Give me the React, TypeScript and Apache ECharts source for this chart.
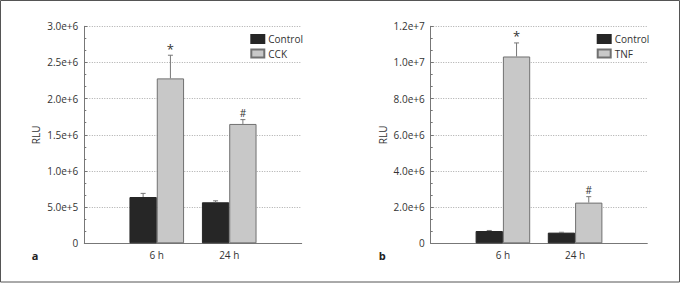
import React, { useEffect, useRef } from "react";
import * as echarts from "echarts";

const categories = ["", "6 h", "24 h", ""];

const aControl = [0.64e6, 0.567e6];
const aControlErr = [0.05e6, 0.02e6];
const aCCK = [2.28e6, 1.65e6];
const aCCKErr = [0.32e6, 0.06e6];
const aMarks = ["*", "#"];

const bControl = [0.68e6, 0.59e6];
const bControlErr = [0.03e6, 0.02e6];
const bTNF = [10.33e6, 2.25e6];
const bTNFErr = [0.75e6, 0.33e6];
const bMarks = ["*", "#"];

const aAxis = { min: 0, max: 3e6, interval: 5e5 };
const bAxis = { min: 0, max: 1.2e7, interval: 2e6 };

const FONT = "Open Sans";
const TEXT = "#333";
const AXIS = "#777";
const BAR_W = 27.3;
const DARK = "#262626";
const LIGHT = "#c8c8c8";

function fmt(v: number) {
  return v === 0 ? "0" : v.toExponential(1);
}

function barSeries(name: string, vals: number[], idx: number, color: string, border: string) {
  return {
    type: "bar",
    name,
    xAxisIndex: idx,
    yAxisIndex: idx,
    barWidth: BAR_W,
    barGap: "0%",
    data: vals.map((v, i) => [i + 1, v]),
    itemStyle: { color, borderColor: border, borderWidth: 1 },
  };
}

function errSeries(vals: number[], errs: number[], marks: (string | null)[], idx: number, offset: number) {
  return {
    type: "custom",
    xAxisIndex: idx,
    yAxisIndex: idx,
    silent: true,
    z: 5,
    data: vals.map((v, i) => [i + 1, v, v + errs[i]]),
    renderItem: (params: any, api: any) => {
      const x = api.value(0);
      const v = api.value(1);
      const e = api.value(2);
      const p0 = api.coord([x, v]);
      const p1 = api.coord([x, e]);
      const cx = p0[0] + offset;
      const mark = marks[params.dataIndex];
      const children: any[] = [
        { type: "line", shape: { x1: cx, y1: p0[1], x2: cx, y2: p1[1] }, style: { stroke: "#777", lineWidth: 1 } },
        { type: "line", shape: { x1: cx - 2.5, y1: p1[1], x2: cx + 2.5, y2: p1[1] }, style: { stroke: "#777", lineWidth: 1 } },
      ];
      if (mark) {
        const big = mark === "*";
        children.push({
          type: "text",
          x: cx,
          y: p1[1] - (big ? 0 : 2),
          style: { text: mark, fill: TEXT, font: `${big ? 13 : 10}px '${FONT}'`, align: "center", verticalAlign: "bottom" },
        });
      }
      return { type: "group", children };
    },
  };
}

function yAxis(idx: number, ax: { min: number; max: number; interval: number }) {
  return {
    type: "value",
    gridIndex: idx,
    min: ax.min,
    max: ax.max,
    interval: ax.interval,
    name: "RLU",
    nameLocation: "middle",
    nameGap: 43,
    nameTextStyle: { color: TEXT, fontFamily: FONT, fontSize: 10 },
    axisLine: { show: true, lineStyle: { color: AXIS, width: 1 } },
    axisTick: { show: true, inside: true, length: 3, lineStyle: { color: AXIS } },
    minorTick: { show: true, splitNumber: 3, length: 2, lineStyle: { color: AXIS } },
    axisLabel: { formatter: fmt, color: TEXT, fontFamily: FONT, fontSize: 10, margin: 6 },
    splitLine: { show: true, lineStyle: { color: "#aaa", type: [1, 1.5], width: 1 } },
  };
}

function xAxis(idx: number) {
  return {
    type: "category",
    gridIndex: idx,
    data: categories,
    boundaryGap: false,
    axisLine: { show: true, lineStyle: { color: AXIS, width: 1 } },
    axisTick: { show: false },
    axisLabel: { color: TEXT, fontFamily: FONT, fontSize: 10, margin: 7, interval: 0 },
    splitLine: { show: false },
  };
}

function legend(left: number, names: string[]) {
  return {
    orient: "vertical",
    left,
    top: 33,
    data: names,
    itemWidth: 13,
    itemHeight: 8,
    itemGap: 2.5,
    icon: "rect",
    selectedMode: false,
    textStyle: { color: TEXT, fontFamily: FONT, fontSize: 10, lineHeight: 12, padding: [0, 0, 0, -1] },
    padding: 0,
  };
}

export default function App() {
  const ref = useRef<HTMLDivElement>(null);
  useEffect(() => {
    document.body.style.margin = "0";
    if (!ref.current) return;
    const chart = echarts.init(ref.current, null, { renderer: "svg" });
    chart.setOption({
      animation: false,
      backgroundColor: "#fff",
      grid: [
        { left: 84.3, top: 26.3, width: 217.4, height: 217 },
        { left: 430.7, top: 26.3, width: 216.6, height: 217 },
      ],
      xAxis: [xAxis(0), xAxis(1)],
      yAxis: [yAxis(0, aAxis), yAxis(1, bAxis)],
      legend: [legend(250.3, ["Control", "CCK"]), legend(596.7, ["Control", "TNF"])],
      series: [
        barSeries("Control", aControl, 0, DARK, DARK),
        barSeries("CCK", aCCK, 0, LIGHT, "#707070"),
        errSeries(aControl, aControlErr, [null, null], 0, -BAR_W / 2),
        errSeries(aCCK, aCCKErr, aMarks, 0, BAR_W / 2),
        barSeries("Control", bControl, 1, DARK, DARK),
        barSeries("TNF", bTNF, 1, LIGHT, "#707070"),
        errSeries(bControl, bControlErr, [null, null], 1, -BAR_W / 2),
        errSeries(bTNF, bTNFErr, bMarks, 1, BAR_W / 2),
      ],
      graphic: [
        { type: "rect", shape: { x: 0.5, y: 0.5, width: 679, height: 281.5 }, style: { fill: "none", stroke: "#555", lineWidth: 1 }, silent: true },
        { type: "text", x: 35, y: 255.7, style: { text: "a", font: `bold 11px '${FONT}'`, fill: "#222", align: "center", verticalAlign: "middle" } },
        { type: "text", x: 382.3, y: 255.7, style: { text: "b", font: `bold 11px '${FONT}'`, fill: "#222", align: "center", verticalAlign: "middle" } },
      ],
    });
    return () => chart.dispose();
  }, []);
  return <div ref={ref} style={{ width: 680, height: 283 }} />;
}
